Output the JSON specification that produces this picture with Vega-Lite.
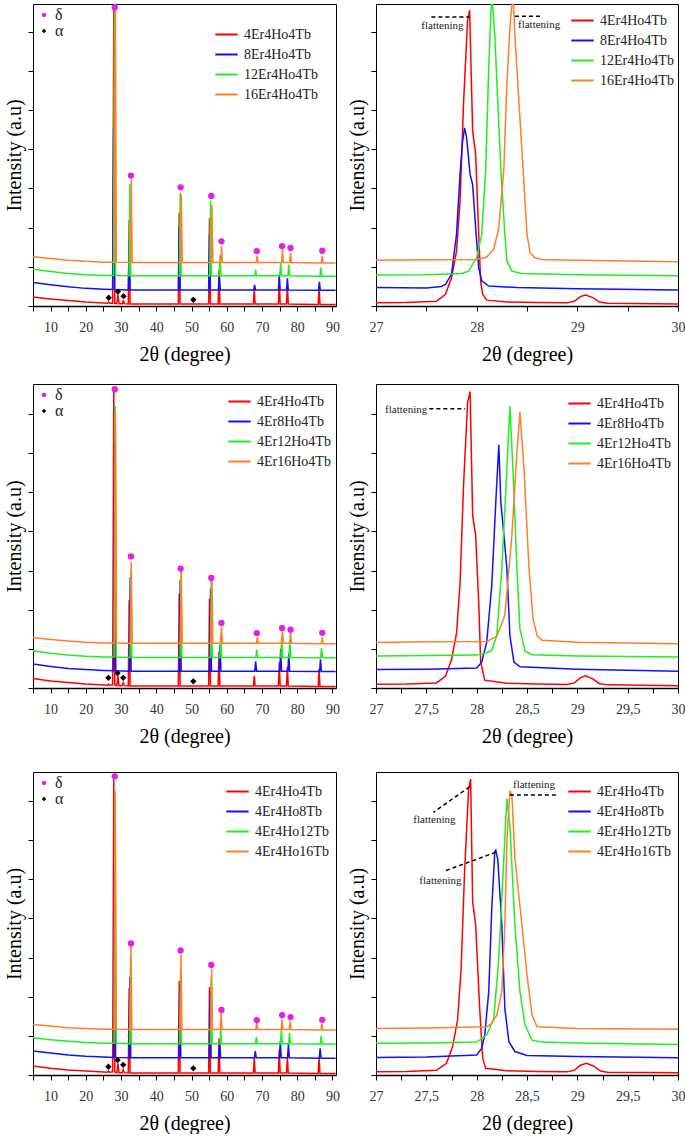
{
"$schema":"https://vega.github.io/schema/vega-lite/v6.json",
"background":"white",
"padding":{"left":4,"top":3,"right":0,"bottom":0},
"config":{
 "font":"Liberation Serif",
 "view":{"stroke":"black","strokeWidth":1},
 "style":{"guide-label":{"font":"Liberation Serif"},"guide-title":{"font":"Liberation Serif"}},
 "axis":{"grid":false,"labelFont":"Liberation Serif","titleFont":"Liberation Serif","titleFontWeight":"normal","titleFontSize":20,"labelFontSize":14,"labelColor":"#333","tickColor":"black","domainColor":"black","titleColor":"black"},
 "axisX":{"tickSize":5,"labelPadding":9,"titlePadding":10,"domainWidth":1.5,"labelFlush":false,"labelOverlap":false},
 "axisY":{"tickSize":5,"labels":false,"domain":false,"titlePadding":3},
 "legend":{"labelFont":"Liberation Serif","labelColor":"#222","padding":0}
},
"datasets":{
"w1":[
{"s":"4Er4Ho4Tb","x":5,"y":0.23},{"s":"4Er4Ho4Tb","x":10,"y":0.18},{"s":"4Er4Ho4Tb","x":15,"y":0.14},{"s":"4Er4Ho4Tb","x":20,"y":0.1},{"s":"4Er4Ho4Tb","x":25,"y":0.075},{"s":"4Er4Ho4Tb","x":26.2,"y":0.07},{"s":"4Er4Ho4Tb","x":26.5,"y":0.1},{"s":"4Er4Ho4Tb","x":26.8,"y":0.07},{"s":"4Er4Ho4Tb","x":27.6,"y":0.07},{"s":"4Er4Ho4Tb","x":27.93,"y":7.55},{"s":"4Er4Ho4Tb","x":28.2,"y":0.07},{"s":"4Er4Ho4Tb","x":28.8,"y":0.06},{"s":"4Er4Ho4Tb","x":29.1,"y":0.3},{"s":"4Er4Ho4Tb","x":29.4,"y":0.06},{"s":"4Er4Ho4Tb","x":30.4,"y":0.06},{"s":"4Er4Ho4Tb","x":30.65,"y":0.15},{"s":"4Er4Ho4Tb","x":30.9,"y":0.06},{"s":"4Er4Ho4Tb","x":32.05,"y":0.05},{"s":"4Er4Ho4Tb","x":32.3,"y":2.2},{"s":"4Er4Ho4Tb","x":32.55,"y":0.05},{"s":"4Er4Ho4Tb","x":46.25,"y":0.05},{"s":"4Er4Ho4Tb","x":46.5,"y":2.38},{"s":"4Er4Ho4Tb","x":46.75,"y":0.05},{"s":"4Er4Ho4Tb","x":54.85,"y":0.05},{"s":"4Er4Ho4Tb","x":55.1,"y":2.24},{"s":"4Er4Ho4Tb","x":55.35,"y":0.05},{"s":"4Er4Ho4Tb","x":57.55,"y":0.05},{"s":"4Er4Ho4Tb","x":57.8,"y":0.91},{"s":"4Er4Ho4Tb","x":58.05,"y":0.05},{"s":"4Er4Ho4Tb","x":67.55,"y":0.05},{"s":"4Er4Ho4Tb","x":67.8,"y":0.42},{"s":"4Er4Ho4Tb","x":68.05,"y":0.05},{"s":"4Er4Ho4Tb","x":74.65,"y":0.05},{"s":"4Er4Ho4Tb","x":74.9,"y":0.64},{"s":"4Er4Ho4Tb","x":75.15,"y":0.05},{"s":"4Er4Ho4Tb","x":76.95,"y":0.05},{"s":"4Er4Ho4Tb","x":77.2,"y":0.51},{"s":"4Er4Ho4Tb","x":77.45,"y":0.05},{"s":"4Er4Ho4Tb","x":85.95,"y":0.04},{"s":"4Er4Ho4Tb","x":86.2,"y":0.51},{"s":"4Er4Ho4Tb","x":86.45,"y":0.04},{"s":"4Er4Ho4Tb","x":90.9,"y":0.04},
{"s":"8Er4Ho4Tb","x":5,"y":0.6},{"s":"8Er4Ho4Tb","x":10,"y":0.54},{"s":"8Er4Ho4Tb","x":15,"y":0.49},{"s":"8Er4Ho4Tb","x":20,"y":0.45},{"s":"8Er4Ho4Tb","x":25,"y":0.43},{"s":"8Er4Ho4Tb","x":27.6,"y":0.42},{"s":"8Er4Ho4Tb","x":27.88,"y":4.55},{"s":"8Er4Ho4Tb","x":28.15,"y":0.42},{"s":"8Er4Ho4Tb","x":32.05,"y":0.41},{"s":"8Er4Ho4Tb","x":32.3,"y":1.68},{"s":"8Er4Ho4Tb","x":32.55,"y":0.41},{"s":"8Er4Ho4Tb","x":46.25,"y":0.41},{"s":"8Er4Ho4Tb","x":46.5,"y":2.02},{"s":"8Er4Ho4Tb","x":46.75,"y":0.41},{"s":"8Er4Ho4Tb","x":54.85,"y":0.41},{"s":"8Er4Ho4Tb","x":55.1,"y":1.83},{"s":"8Er4Ho4Tb","x":55.35,"y":0.41},{"s":"8Er4Ho4Tb","x":57.65,"y":0.41},{"s":"8Er4Ho4Tb","x":57.9,"y":0.78},{"s":"8Er4Ho4Tb","x":58.15,"y":0.41},{"s":"8Er4Ho4Tb","x":67.65,"y":0.41},{"s":"8Er4Ho4Tb","x":67.9,"y":0.54},{"s":"8Er4Ho4Tb","x":68.15,"y":0.41},{"s":"8Er4Ho4Tb","x":74.65,"y":0.41},{"s":"8Er4Ho4Tb","x":74.9,"y":0.81},{"s":"8Er4Ho4Tb","x":75.15,"y":0.41},{"s":"8Er4Ho4Tb","x":76.95,"y":0.41},{"s":"8Er4Ho4Tb","x":77.2,"y":0.71},{"s":"8Er4Ho4Tb","x":77.45,"y":0.41},{"s":"8Er4Ho4Tb","x":86.05,"y":0.4},{"s":"8Er4Ho4Tb","x":86.3,"y":0.62},{"s":"8Er4Ho4Tb","x":86.55,"y":0.4},{"s":"8Er4Ho4Tb","x":90.9,"y":0.4},
{"s":"12Er4Ho4Tb","x":5,"y":0.94},{"s":"12Er4Ho4Tb","x":10,"y":0.88},{"s":"12Er4Ho4Tb","x":15,"y":0.83},{"s":"12Er4Ho4Tb","x":20,"y":0.8},{"s":"12Er4Ho4Tb","x":25,"y":0.78},{"s":"12Er4Ho4Tb","x":27.85,"y":0.78},{"s":"12Er4Ho4Tb","x":28.15,"y":8.2},{"s":"12Er4Ho4Tb","x":28.45,"y":0.78},{"s":"12Er4Ho4Tb","x":32.25,"y":0.77},{"s":"12Er4Ho4Tb","x":32.5,"y":3.12},{"s":"12Er4Ho4Tb","x":32.75,"y":0.77},{"s":"12Er4Ho4Tb","x":46.55,"y":0.77},{"s":"12Er4Ho4Tb","x":46.8,"y":2.9},{"s":"12Er4Ho4Tb","x":47.05,"y":0.77},{"s":"12Er4Ho4Tb","x":55.15,"y":0.77},{"s":"12Er4Ho4Tb","x":55.4,"y":2.7},{"s":"12Er4Ho4Tb","x":55.65,"y":0.77},{"s":"12Er4Ho4Tb","x":57.85,"y":0.77},{"s":"12Er4Ho4Tb","x":58.1,"y":1.3},{"s":"12Er4Ho4Tb","x":58.35,"y":0.77},{"s":"12Er4Ho4Tb","x":67.95,"y":0.77},{"s":"12Er4Ho4Tb","x":68.2,"y":0.93},{"s":"12Er4Ho4Tb","x":68.45,"y":0.77},{"s":"12Er4Ho4Tb","x":75.05,"y":0.77},{"s":"12Er4Ho4Tb","x":75.3,"y":1.1},{"s":"12Er4Ho4Tb","x":75.55,"y":0.77},{"s":"12Er4Ho4Tb","x":77.35,"y":0.77},{"s":"12Er4Ho4Tb","x":77.6,"y":1.06},{"s":"12Er4Ho4Tb","x":77.85,"y":0.77},{"s":"12Er4Ho4Tb","x":86.45,"y":0.76},{"s":"12Er4Ho4Tb","x":86.7,"y":0.98},{"s":"12Er4Ho4Tb","x":86.95,"y":0.76},{"s":"12Er4Ho4Tb","x":90.9,"y":0.76},
{"s":"16Er4Ho4Tb","x":5,"y":1.26},{"s":"16Er4Ho4Tb","x":10,"y":1.21},{"s":"16Er4Ho4Tb","x":15,"y":1.17},{"s":"16Er4Ho4Tb","x":20,"y":1.14},{"s":"16Er4Ho4Tb","x":25,"y":1.12},{"s":"16Er4Ho4Tb","x":28.05,"y":1.12},{"s":"16Er4Ho4Tb","x":28.37,"y":8.2},{"s":"16Er4Ho4Tb","x":28.65,"y":1.12},{"s":"16Er4Ho4Tb","x":32.65,"y":1.11},{"s":"16Er4Ho4Tb","x":32.9,"y":3.23},{"s":"16Er4Ho4Tb","x":33.15,"y":1.11},{"s":"16Er4Ho4Tb","x":46.85,"y":1.11},{"s":"16Er4Ho4Tb","x":47.1,"y":2.85},{"s":"16Er4Ho4Tb","x":47.35,"y":1.11},{"s":"16Er4Ho4Tb","x":55.55,"y":1.11},{"s":"16Er4Ho4Tb","x":55.8,"y":2.58},{"s":"16Er4Ho4Tb","x":56.05,"y":1.11},{"s":"16Er4Ho4Tb","x":58.25,"y":1.11},{"s":"16Er4Ho4Tb","x":58.5,"y":1.53},{"s":"16Er4Ho4Tb","x":58.75,"y":1.11},{"s":"16Er4Ho4Tb","x":68.35,"y":1.11},{"s":"16Er4Ho4Tb","x":68.6,"y":1.28},{"s":"16Er4Ho4Tb","x":68.85,"y":1.11},{"s":"16Er4Ho4Tb","x":75.55,"y":1.11},{"s":"16Er4Ho4Tb","x":75.8,"y":1.45},{"s":"16Er4Ho4Tb","x":76.05,"y":1.11},{"s":"16Er4Ho4Tb","x":77.85,"y":1.11},{"s":"16Er4Ho4Tb","x":78.1,"y":1.36},{"s":"16Er4Ho4Tb","x":78.35,"y":1.11},{"s":"16Er4Ho4Tb","x":86.85,"y":1.1},{"s":"16Er4Ho4Tb","x":87.1,"y":1.28},{"s":"16Er4Ho4Tb","x":87.35,"y":1.1},{"s":"16Er4Ho4Tb","x":90.9,"y":1.1}
],
"w2":[
{"s":"4Er4Ho4Tb","x":5,"y":0.24},{"s":"4Er4Ho4Tb","x":10,"y":0.18},{"s":"4Er4Ho4Tb","x":15,"y":0.14},{"s":"4Er4Ho4Tb","x":20,"y":0.1},{"s":"4Er4Ho4Tb","x":25,"y":0.075},{"s":"4Er4Ho4Tb","x":26.1,"y":0.07},{"s":"4Er4Ho4Tb","x":26.4,"y":0.1},{"s":"4Er4Ho4Tb","x":26.7,"y":0.07},{"s":"4Er4Ho4Tb","x":27.6,"y":0.08},{"s":"4Er4Ho4Tb","x":27.93,"y":7.57},{"s":"4Er4Ho4Tb","x":28.2,"y":0.08},{"s":"4Er4Ho4Tb","x":28.8,"y":0.06},{"s":"4Er4Ho4Tb","x":29.1,"y":0.31},{"s":"4Er4Ho4Tb","x":29.4,"y":0.06},{"s":"4Er4Ho4Tb","x":30.3,"y":0.06},{"s":"4Er4Ho4Tb","x":30.6,"y":0.14},{"s":"4Er4Ho4Tb","x":30.9,"y":0.06},{"s":"4Er4Ho4Tb","x":32.05,"y":0.05},{"s":"4Er4Ho4Tb","x":32.3,"y":2.24},{"s":"4Er4Ho4Tb","x":32.55,"y":0.05},{"s":"4Er4Ho4Tb","x":46.25,"y":0.05},{"s":"4Er4Ho4Tb","x":46.5,"y":2.41},{"s":"4Er4Ho4Tb","x":46.75,"y":0.05},{"s":"4Er4Ho4Tb","x":54.85,"y":0.05},{"s":"4Er4Ho4Tb","x":55.1,"y":2.28},{"s":"4Er4Ho4Tb","x":55.35,"y":0.05},{"s":"4Er4Ho4Tb","x":57.55,"y":0.05},{"s":"4Er4Ho4Tb","x":57.8,"y":0.94},{"s":"4Er4Ho4Tb","x":58.05,"y":0.05},{"s":"4Er4Ho4Tb","x":67.55,"y":0.05},{"s":"4Er4Ho4Tb","x":67.8,"y":0.31},{"s":"4Er4Ho4Tb","x":68.05,"y":0.05},{"s":"4Er4Ho4Tb","x":74.65,"y":0.05},{"s":"4Er4Ho4Tb","x":74.9,"y":0.66},{"s":"4Er4Ho4Tb","x":75.15,"y":0.05},{"s":"4Er4Ho4Tb","x":76.95,"y":0.05},{"s":"4Er4Ho4Tb","x":77.2,"y":0.54},{"s":"4Er4Ho4Tb","x":77.45,"y":0.05},{"s":"4Er4Ho4Tb","x":85.95,"y":0.04},{"s":"4Er4Ho4Tb","x":86.2,"y":0.49},{"s":"4Er4Ho4Tb","x":86.45,"y":0.04},{"s":"4Er4Ho4Tb","x":90.9,"y":0.04},
{"s":"4Er8Ho4Tb","x":5,"y":0.61},{"s":"4Er8Ho4Tb","x":10,"y":0.55},{"s":"4Er8Ho4Tb","x":15,"y":0.5},{"s":"4Er8Ho4Tb","x":20,"y":0.47},{"s":"4Er8Ho4Tb","x":25,"y":0.45},{"s":"4Er8Ho4Tb","x":27.9,"y":0.44},{"s":"4Er8Ho4Tb","x":28.22,"y":6.21},{"s":"4Er8Ho4Tb","x":28.5,"y":0.44},{"s":"4Er8Ho4Tb","x":32.35,"y":0.43},{"s":"4Er8Ho4Tb","x":32.6,"y":2.83},{"s":"4Er8Ho4Tb","x":32.85,"y":0.43},{"s":"4Er8Ho4Tb","x":46.55,"y":0.43},{"s":"4Er8Ho4Tb","x":46.8,"y":2.75},{"s":"4Er8Ho4Tb","x":47.05,"y":0.43},{"s":"4Er8Ho4Tb","x":55.15,"y":0.43},{"s":"4Er8Ho4Tb","x":55.4,"y":2.54},{"s":"4Er8Ho4Tb","x":55.65,"y":0.43},{"s":"4Er8Ho4Tb","x":57.85,"y":0.43},{"s":"4Er8Ho4Tb","x":58.1,"y":1.09},{"s":"4Er8Ho4Tb","x":58.35,"y":0.43},{"s":"4Er8Ho4Tb","x":67.95,"y":0.43},{"s":"4Er8Ho4Tb","x":68.2,"y":0.68},{"s":"4Er8Ho4Tb","x":68.45,"y":0.43},{"s":"4Er8Ho4Tb","x":75.05,"y":0.43},{"s":"4Er8Ho4Tb","x":75.3,"y":1.0},{"s":"4Er8Ho4Tb","x":75.55,"y":0.43},{"s":"4Er8Ho4Tb","x":77.35,"y":0.43},{"s":"4Er8Ho4Tb","x":77.6,"y":0.88},{"s":"4Er8Ho4Tb","x":77.85,"y":0.43},{"s":"4Er8Ho4Tb","x":86.35,"y":0.42},{"s":"4Er8Ho4Tb","x":86.6,"y":0.73},{"s":"4Er8Ho4Tb","x":86.85,"y":0.42},{"s":"4Er8Ho4Tb","x":90.9,"y":0.42},
{"s":"4Er12Ho4Tb","x":5,"y":0.95},{"s":"4Er12Ho4Tb","x":10,"y":0.89},{"s":"4Er12Ho4Tb","x":15,"y":0.84},{"s":"4Er12Ho4Tb","x":20,"y":0.81},{"s":"4Er12Ho4Tb","x":25,"y":0.79},{"s":"4Er12Ho4Tb","x":28.0,"y":0.79},{"s":"4Er12Ho4Tb","x":28.33,"y":7.2},{"s":"4Er12Ho4Tb","x":28.6,"y":0.79},{"s":"4Er12Ho4Tb","x":32.55,"y":0.78},{"s":"4Er12Ho4Tb","x":32.8,"y":3.0},{"s":"4Er12Ho4Tb","x":33.05,"y":0.78},{"s":"4Er12Ho4Tb","x":46.75,"y":0.78},{"s":"4Er12Ho4Tb","x":47.0,"y":3.0},{"s":"4Er12Ho4Tb","x":47.25,"y":0.78},{"s":"4Er12Ho4Tb","x":55.35,"y":0.78},{"s":"4Er12Ho4Tb","x":55.6,"y":2.79},{"s":"4Er12Ho4Tb","x":55.85,"y":0.78},{"s":"4Er12Ho4Tb","x":58.05,"y":0.78},{"s":"4Er12Ho4Tb","x":58.3,"y":1.34},{"s":"4Er12Ho4Tb","x":58.55,"y":0.78},{"s":"4Er12Ho4Tb","x":68.25,"y":0.78},{"s":"4Er12Ho4Tb","x":68.5,"y":0.98},{"s":"4Er12Ho4Tb","x":68.75,"y":0.78},{"s":"4Er12Ho4Tb","x":75.35,"y":0.78},{"s":"4Er12Ho4Tb","x":75.6,"y":1.34},{"s":"4Er12Ho4Tb","x":75.85,"y":0.78},{"s":"4Er12Ho4Tb","x":77.65,"y":0.78},{"s":"4Er12Ho4Tb","x":77.9,"y":1.22},{"s":"4Er12Ho4Tb","x":78.15,"y":0.78},{"s":"4Er12Ho4Tb","x":86.65,"y":0.77},{"s":"4Er12Ho4Tb","x":86.9,"y":1.02},{"s":"4Er12Ho4Tb","x":87.15,"y":0.77},{"s":"4Er12Ho4Tb","x":90.9,"y":0.77},
{"s":"4Er16Ho4Tb","x":5,"y":1.29},{"s":"4Er16Ho4Tb","x":10,"y":1.24},{"s":"4Er16Ho4Tb","x":15,"y":1.2},{"s":"4Er16Ho4Tb","x":20,"y":1.17},{"s":"4Er16Ho4Tb","x":25,"y":1.15},{"s":"4Er16Ho4Tb","x":28.1,"y":1.15},{"s":"4Er16Ho4Tb","x":28.43,"y":7.05},{"s":"4Er16Ho4Tb","x":28.7,"y":1.15},{"s":"4Er16Ho4Tb","x":32.65,"y":1.14},{"s":"4Er16Ho4Tb","x":32.9,"y":3.22},{"s":"4Er16Ho4Tb","x":33.15,"y":1.14},{"s":"4Er16Ho4Tb","x":46.85,"y":1.14},{"s":"4Er16Ho4Tb","x":47.1,"y":3.0},{"s":"4Er16Ho4Tb","x":47.35,"y":1.14},{"s":"4Er16Ho4Tb","x":55.55,"y":1.14},{"s":"4Er16Ho4Tb","x":55.8,"y":2.79},{"s":"4Er16Ho4Tb","x":56.05,"y":1.14},{"s":"4Er16Ho4Tb","x":58.25,"y":1.14},{"s":"4Er16Ho4Tb","x":58.5,"y":1.56},{"s":"4Er16Ho4Tb","x":58.75,"y":1.14},{"s":"4Er16Ho4Tb","x":68.45,"y":1.14},{"s":"4Er16Ho4Tb","x":68.7,"y":1.3},{"s":"4Er16Ho4Tb","x":68.95,"y":1.14},{"s":"4Er16Ho4Tb","x":75.55,"y":1.14},{"s":"4Er16Ho4Tb","x":75.8,"y":1.47},{"s":"4Er16Ho4Tb","x":76.05,"y":1.14},{"s":"4Er16Ho4Tb","x":77.85,"y":1.14},{"s":"4Er16Ho4Tb","x":78.1,"y":1.43},{"s":"4Er16Ho4Tb","x":78.35,"y":1.14},{"s":"4Er16Ho4Tb","x":86.85,"y":1.13},{"s":"4Er16Ho4Tb","x":87.1,"y":1.3},{"s":"4Er16Ho4Tb","x":87.35,"y":1.13},{"s":"4Er16Ho4Tb","x":90.9,"y":1.13}
],
"w3":[
{"s":"4Er4Ho4Tb","x":5,"y":0.23},{"s":"4Er4Ho4Tb","x":10,"y":0.17},{"s":"4Er4Ho4Tb","x":15,"y":0.13},{"s":"4Er4Ho4Tb","x":20,"y":0.1},{"s":"4Er4Ho4Tb","x":25,"y":0.075},{"s":"4Er4Ho4Tb","x":26.1,"y":0.07},{"s":"4Er4Ho4Tb","x":26.4,"y":0.1},{"s":"4Er4Ho4Tb","x":26.7,"y":0.07},{"s":"4Er4Ho4Tb","x":27.6,"y":0.08},{"s":"4Er4Ho4Tb","x":27.94,"y":7.56},{"s":"4Er4Ho4Tb","x":28.2,"y":0.08},{"s":"4Er4Ho4Tb","x":28.8,"y":0.06},{"s":"4Er4Ho4Tb","x":29.1,"y":0.3},{"s":"4Er4Ho4Tb","x":29.4,"y":0.06},{"s":"4Er4Ho4Tb","x":30.3,"y":0.06},{"s":"4Er4Ho4Tb","x":30.6,"y":0.14},{"s":"4Er4Ho4Tb","x":30.9,"y":0.06},{"s":"4Er4Ho4Tb","x":32.05,"y":0.05},{"s":"4Er4Ho4Tb","x":32.3,"y":2.23},{"s":"4Er4Ho4Tb","x":32.55,"y":0.05},{"s":"4Er4Ho4Tb","x":46.25,"y":0.05},{"s":"4Er4Ho4Tb","x":46.5,"y":2.4},{"s":"4Er4Ho4Tb","x":46.75,"y":0.05},{"s":"4Er4Ho4Tb","x":54.85,"y":0.05},{"s":"4Er4Ho4Tb","x":55.1,"y":2.25},{"s":"4Er4Ho4Tb","x":55.35,"y":0.05},{"s":"4Er4Ho4Tb","x":57.55,"y":0.05},{"s":"4Er4Ho4Tb","x":57.8,"y":0.93},{"s":"4Er4Ho4Tb","x":58.05,"y":0.05},{"s":"4Er4Ho4Tb","x":67.55,"y":0.05},{"s":"4Er4Ho4Tb","x":67.8,"y":0.44},{"s":"4Er4Ho4Tb","x":68.05,"y":0.05},{"s":"4Er4Ho4Tb","x":74.65,"y":0.05},{"s":"4Er4Ho4Tb","x":74.9,"y":0.65},{"s":"4Er4Ho4Tb","x":75.15,"y":0.05},{"s":"4Er4Ho4Tb","x":76.95,"y":0.05},{"s":"4Er4Ho4Tb","x":77.2,"y":0.44},{"s":"4Er4Ho4Tb","x":77.45,"y":0.05},{"s":"4Er4Ho4Tb","x":85.95,"y":0.04},{"s":"4Er4Ho4Tb","x":86.2,"y":0.44},{"s":"4Er4Ho4Tb","x":86.45,"y":0.04},{"s":"4Er4Ho4Tb","x":90.9,"y":0.04},
{"s":"4Er4Ho8Tb","x":5,"y":0.61},{"s":"4Er4Ho8Tb","x":10,"y":0.56},{"s":"4Er4Ho8Tb","x":15,"y":0.51},{"s":"4Er4Ho8Tb","x":20,"y":0.48},{"s":"4Er4Ho8Tb","x":25,"y":0.46},{"s":"4Er4Ho8Tb","x":27.9,"y":0.45},{"s":"4Er4Ho8Tb","x":28.19,"y":5.74},{"s":"4Er4Ho8Tb","x":28.45,"y":0.45},{"s":"4Er4Ho8Tb","x":32.25,"y":0.44},{"s":"4Er4Ho8Tb","x":32.5,"y":2.5},{"s":"4Er4Ho8Tb","x":32.75,"y":0.44},{"s":"4Er4Ho8Tb","x":46.45,"y":0.44},{"s":"4Er4Ho8Tb","x":46.7,"y":2.3},{"s":"4Er4Ho8Tb","x":46.95,"y":0.44},{"s":"4Er4Ho8Tb","x":55.05,"y":0.44},{"s":"4Er4Ho8Tb","x":55.3,"y":2.14},{"s":"4Er4Ho8Tb","x":55.55,"y":0.44},{"s":"4Er4Ho8Tb","x":57.75,"y":0.44},{"s":"4Er4Ho8Tb","x":58.0,"y":0.87},{"s":"4Er4Ho8Tb","x":58.25,"y":0.44},{"s":"4Er4Ho8Tb","x":67.85,"y":0.44},{"s":"4Er4Ho8Tb","x":68.1,"y":0.61},{"s":"4Er4Ho8Tb","x":68.35,"y":0.44},{"s":"4Er4Ho8Tb","x":74.95,"y":0.44},{"s":"4Er4Ho8Tb","x":75.2,"y":0.87},{"s":"4Er4Ho8Tb","x":75.45,"y":0.44},{"s":"4Er4Ho8Tb","x":77.25,"y":0.44},{"s":"4Er4Ho8Tb","x":77.5,"y":0.8},{"s":"4Er4Ho8Tb","x":77.75,"y":0.44},{"s":"4Er4Ho8Tb","x":86.25,"y":0.43},{"s":"4Er4Ho8Tb","x":86.5,"y":0.68},{"s":"4Er4Ho8Tb","x":86.75,"y":0.43},{"s":"4Er4Ho8Tb","x":90.9,"y":0.43},
{"s":"4Er4Ho12Tb","x":5,"y":0.95},{"s":"4Er4Ho12Tb","x":10,"y":0.9},{"s":"4Er4Ho12Tb","x":15,"y":0.86},{"s":"4Er4Ho12Tb","x":20,"y":0.83},{"s":"4Er4Ho12Tb","x":25,"y":0.81},{"s":"4Er4Ho12Tb","x":28.0,"y":0.81},{"s":"4Er4Ho12Tb","x":28.3,"y":7.06},{"s":"4Er4Ho12Tb","x":28.6,"y":0.81},{"s":"4Er4Ho12Tb","x":32.45,"y":0.8},{"s":"4Er4Ho12Tb","x":32.7,"y":3.0},{"s":"4Er4Ho12Tb","x":32.95,"y":0.8},{"s":"4Er4Ho12Tb","x":46.65,"y":0.8},{"s":"4Er4Ho12Tb","x":46.9,"y":2.7},{"s":"4Er4Ho12Tb","x":47.15,"y":0.8},{"s":"4Er4Ho12Tb","x":55.35,"y":0.8},{"s":"4Er4Ho12Tb","x":55.6,"y":2.5},{"s":"4Er4Ho12Tb","x":55.85,"y":0.8},{"s":"4Er4Ho12Tb","x":58.05,"y":0.8},{"s":"4Er4Ho12Tb","x":58.3,"y":1.16},{"s":"4Er4Ho12Tb","x":58.55,"y":0.8},{"s":"4Er4Ho12Tb","x":68.15,"y":0.8},{"s":"4Er4Ho12Tb","x":68.4,"y":0.97},{"s":"4Er4Ho12Tb","x":68.65,"y":0.8},{"s":"4Er4Ho12Tb","x":75.25,"y":0.8},{"s":"4Er4Ho12Tb","x":75.5,"y":1.16},{"s":"4Er4Ho12Tb","x":75.75,"y":0.8},{"s":"4Er4Ho12Tb","x":77.55,"y":0.8},{"s":"4Er4Ho12Tb","x":77.8,"y":1.08},{"s":"4Er4Ho12Tb","x":78.05,"y":0.8},{"s":"4Er4Ho12Tb","x":86.55,"y":0.79},{"s":"4Er4Ho12Tb","x":86.8,"y":1.0},{"s":"4Er4Ho12Tb","x":87.05,"y":0.79},{"s":"4Er4Ho12Tb","x":90.9,"y":0.79},
{"s":"4Er4Ho16Tb","x":5,"y":1.29},{"s":"4Er4Ho16Tb","x":10,"y":1.25},{"s":"4Er4Ho16Tb","x":15,"y":1.21},{"s":"4Er4Ho16Tb","x":20,"y":1.19},{"s":"4Er4Ho16Tb","x":25,"y":1.17},{"s":"4Er4Ho16Tb","x":28.05,"y":1.17},{"s":"4Er4Ho16Tb","x":28.33,"y":7.26},{"s":"4Er4Ho16Tb","x":28.6,"y":1.17},{"s":"4Er4Ho16Tb","x":32.55,"y":1.16},{"s":"4Er4Ho16Tb","x":32.8,"y":3.29},{"s":"4Er4Ho16Tb","x":33.05,"y":1.16},{"s":"4Er4Ho16Tb","x":46.75,"y":1.16},{"s":"4Er4Ho16Tb","x":47.0,"y":3.08},{"s":"4Er4Ho16Tb","x":47.25,"y":1.16},{"s":"4Er4Ho16Tb","x":55.45,"y":1.16},{"s":"4Er4Ho16Tb","x":55.7,"y":2.7},{"s":"4Er4Ho16Tb","x":55.95,"y":1.16},{"s":"4Er4Ho16Tb","x":58.15,"y":1.16},{"s":"4Er4Ho16Tb","x":58.4,"y":1.59},{"s":"4Er4Ho16Tb","x":58.65,"y":1.16},{"s":"4Er4Ho16Tb","x":68.25,"y":1.16},{"s":"4Er4Ho16Tb","x":68.5,"y":1.34},{"s":"4Er4Ho16Tb","x":68.75,"y":1.16},{"s":"4Er4Ho16Tb","x":75.45,"y":1.16},{"s":"4Er4Ho16Tb","x":75.7,"y":1.42},{"s":"4Er4Ho16Tb","x":75.95,"y":1.16},{"s":"4Er4Ho16Tb","x":77.75,"y":1.16},{"s":"4Er4Ho16Tb","x":78.0,"y":1.38},{"s":"4Er4Ho16Tb","x":78.25,"y":1.16},{"s":"4Er4Ho16Tb","x":86.75,"y":1.15},{"s":"4Er4Ho16Tb","x":87.0,"y":1.31},{"s":"4Er4Ho16Tb","x":87.25,"y":1.15},{"s":"4Er4Ho16Tb","x":90.9,"y":1.15}
],
"z1":[
{"s":"4Er4Ho4Tb","x":27,"y":0.085},{"s":"4Er4Ho4Tb","x":27.3,"y":0.09},{"s":"4Er4Ho4Tb","x":27.6,"y":0.12},{"s":"4Er4Ho4Tb","x":27.69,"y":0.3},{"s":"4Er4Ho4Tb","x":27.75,"y":0.72},{"s":"4Er4Ho4Tb","x":27.8,"y":1.4},{"s":"4Er4Ho4Tb","x":27.835,"y":2.68},{"s":"4Er4Ho4Tb","x":27.87,"y":5.2},{"s":"4Er4Ho4Tb","x":27.91,"y":7.3},{"s":"4Er4Ho4Tb","x":27.93,"y":7.55},{"s":"4Er4Ho4Tb","x":27.96,"y":4.47},{"s":"4Er4Ho4Tb","x":27.99,"y":3.87},{"s":"4Er4Ho4Tb","x":28.01,"y":2.5},{"s":"4Er4Ho4Tb","x":28.04,"y":0.6},{"s":"4Er4Ho4Tb","x":28.06,"y":0.3},{"s":"4Er4Ho4Tb","x":28.1,"y":0.15},{"s":"4Er4Ho4Tb","x":28.3,"y":0.1},{"s":"4Er4Ho4Tb","x":28.6,"y":0.09},{"s":"4Er4Ho4Tb","x":28.9,"y":0.08},{"s":"4Er4Ho4Tb","x":28.97,"y":0.12},{"s":"4Er4Ho4Tb","x":29.03,"y":0.24},{"s":"4Er4Ho4Tb","x":29.08,"y":0.28},{"s":"4Er4Ho4Tb","x":29.15,"y":0.22},{"s":"4Er4Ho4Tb","x":29.22,"y":0.1},{"s":"4Er4Ho4Tb","x":29.3,"y":0.07},{"s":"4Er4Ho4Tb","x":30,"y":0.05},
{"s":"8Er4Ho4Tb","x":27,"y":0.47},{"s":"8Er4Ho4Tb","x":27.5,"y":0.46},{"s":"8Er4Ho4Tb","x":27.65,"y":0.5},{"s":"8Er4Ho4Tb","x":27.69,"y":0.55},{"s":"8Er4Ho4Tb","x":27.75,"y":0.81},{"s":"8Er4Ho4Tb","x":27.8,"y":1.83},{"s":"8Er4Ho4Tb","x":27.835,"y":3.36},{"s":"8Er4Ho4Tb","x":27.86,"y":4.2},{"s":"8Er4Ho4Tb","x":27.88,"y":4.55},{"s":"8Er4Ho4Tb","x":27.9,"y":4.3},{"s":"8Er4Ho4Tb","x":27.935,"y":3.36},{"s":"8Er4Ho4Tb","x":27.96,"y":3.1},{"s":"8Er4Ho4Tb","x":27.99,"y":2.0},{"s":"8Er4Ho4Tb","x":28.02,"y":0.98},{"s":"8Er4Ho4Tb","x":28.05,"y":0.64},{"s":"8Er4Ho4Tb","x":28.12,"y":0.51},{"s":"8Er4Ho4Tb","x":28.4,"y":0.47},{"s":"8Er4Ho4Tb","x":29,"y":0.44},{"s":"8Er4Ho4Tb","x":30,"y":0.41},
{"s":"12Er4Ho4Tb","x":27,"y":0.79},{"s":"12Er4Ho4Tb","x":27.5,"y":0.8},{"s":"12Er4Ho4Tb","x":27.85,"y":0.83},{"s":"12Er4Ho4Tb","x":27.92,"y":0.89},{"s":"12Er4Ho4Tb","x":28.0,"y":1.23},{"s":"12Er4Ho4Tb","x":28.05,"y":1.83},{"s":"12Er4Ho4Tb","x":28.09,"y":3.5},{"s":"12Er4Ho4Tb","x":28.12,"y":6.1},{"s":"12Er4Ho4Tb","x":28.15,"y":8.0},{"s":"12Er4Ho4Tb","x":28.18,"y":6.9},{"s":"12Er4Ho4Tb","x":28.21,"y":5.2},{"s":"12Er4Ho4Tb","x":28.24,"y":3.5},{"s":"12Er4Ho4Tb","x":28.28,"y":1.83},{"s":"12Er4Ho4Tb","x":28.3,"y":1.15},{"s":"12Er4Ho4Tb","x":28.35,"y":0.89},{"s":"12Er4Ho4Tb","x":28.45,"y":0.83},{"s":"12Er4Ho4Tb","x":29,"y":0.8},{"s":"12Er4Ho4Tb","x":30,"y":0.77},
{"s":"16Er4Ho4Tb","x":27,"y":1.17},{"s":"16Er4Ho4Tb","x":27.5,"y":1.18},{"s":"16Er4Ho4Tb","x":28.0,"y":1.19},{"s":"16Er4Ho4Tb","x":28.1,"y":1.25},{"s":"16Er4Ho4Tb","x":28.17,"y":1.45},{"s":"16Er4Ho4Tb","x":28.22,"y":2.0},{"s":"16Er4Ho4Tb","x":28.27,"y":3.5},{"s":"16Er4Ho4Tb","x":28.3,"y":5.66},{"s":"16Er4Ho4Tb","x":28.33,"y":7.1},{"s":"16Er4Ho4Tb","x":28.36,"y":8.0},{"s":"16Er4Ho4Tb","x":28.38,"y":6.9},{"s":"16Er4Ho4Tb","x":28.42,"y":5.2},{"s":"16Er4Ho4Tb","x":28.47,"y":3.1},{"s":"16Er4Ho4Tb","x":28.5,"y":1.83},{"s":"16Er4Ho4Tb","x":28.53,"y":1.36},{"s":"16Er4Ho4Tb","x":28.58,"y":1.23},{"s":"16Er4Ho4Tb","x":28.65,"y":1.19},{"s":"16Er4Ho4Tb","x":29,"y":1.17},{"s":"16Er4Ho4Tb","x":30,"y":1.13}
],
"z2":[
{"s":"4Er4Ho4Tb","x":27,"y":0.094},{"s":"4Er4Ho4Tb","x":27.3,"y":0.1},{"s":"4Er4Ho4Tb","x":27.6,"y":0.13},{"s":"4Er4Ho4Tb","x":27.69,"y":0.3},{"s":"4Er4Ho4Tb","x":27.75,"y":0.72},{"s":"4Er4Ho4Tb","x":27.8,"y":1.4},{"s":"4Er4Ho4Tb","x":27.835,"y":2.68},{"s":"4Er4Ho4Tb","x":27.87,"y":5.2},{"s":"4Er4Ho4Tb","x":27.91,"y":7.3},{"s":"4Er4Ho4Tb","x":27.935,"y":7.57},{"s":"4Er4Ho4Tb","x":27.96,"y":4.41},{"s":"4Er4Ho4Tb","x":27.99,"y":3.9},{"s":"4Er4Ho4Tb","x":28.02,"y":2.2},{"s":"4Er4Ho4Tb","x":28.04,"y":0.66},{"s":"4Er4Ho4Tb","x":28.08,"y":0.2},{"s":"4Er4Ho4Tb","x":28.3,"y":0.12},{"s":"4Er4Ho4Tb","x":28.6,"y":0.1},{"s":"4Er4Ho4Tb","x":28.9,"y":0.09},{"s":"4Er4Ho4Tb","x":28.97,"y":0.13},{"s":"4Er4Ho4Tb","x":29.03,"y":0.26},{"s":"4Er4Ho4Tb","x":29.08,"y":0.31},{"s":"4Er4Ho4Tb","x":29.15,"y":0.24},{"s":"4Er4Ho4Tb","x":29.22,"y":0.11},{"s":"4Er4Ho4Tb","x":29.3,"y":0.08},{"s":"4Er4Ho4Tb","x":30,"y":0.06},
{"s":"4Er8Ho4Tb","x":27,"y":0.47},{"s":"4Er8Ho4Tb","x":27.5,"y":0.48},{"s":"4Er8Ho4Tb","x":28.0,"y":0.51},{"s":"4Er8Ho4Tb","x":28.05,"y":0.66},{"s":"4Er8Ho4Tb","x":28.1,"y":1.17},{"s":"4Er8Ho4Tb","x":28.15,"y":2.62},{"s":"4Er8Ho4Tb","x":28.19,"y":4.75},{"s":"4Er8Ho4Tb","x":28.22,"y":6.21},{"s":"4Er8Ho4Tb","x":28.24,"y":4.75},{"s":"4Er8Ho4Tb","x":28.28,"y":3.64},{"s":"4Er8Ho4Tb","x":28.3,"y":3.05},{"s":"4Er8Ho4Tb","x":28.33,"y":1.34},{"s":"4Er8Ho4Tb","x":28.37,"y":0.66},{"s":"4Er8Ho4Tb","x":28.43,"y":0.54},{"s":"4Er8Ho4Tb","x":29,"y":0.48},{"s":"4Er8Ho4Tb","x":30,"y":0.43},
{"s":"4Er12Ho4Tb","x":27,"y":0.82},{"s":"4Er12Ho4Tb","x":27.5,"y":0.83},{"s":"4Er12Ho4Tb","x":28.0,"y":0.84},{"s":"4Er12Ho4Tb","x":28.1,"y":0.9},{"s":"4Er12Ho4Tb","x":28.15,"y":0.96},{"s":"4Er12Ho4Tb","x":28.2,"y":1.34},{"s":"4Er12Ho4Tb","x":28.25,"y":3.05},{"s":"4Er12Ho4Tb","x":28.3,"y":5.6},{"s":"4Er12Ho4Tb","x":28.33,"y":7.2},{"s":"4Er12Ho4Tb","x":28.36,"y":5.6},{"s":"4Er12Ho4Tb","x":28.4,"y":3.05},{"s":"4Er12Ho4Tb","x":28.43,"y":1.51},{"s":"4Er12Ho4Tb","x":28.48,"y":0.94},{"s":"4Er12Ho4Tb","x":28.55,"y":0.85},{"s":"4Er12Ho4Tb","x":29,"y":0.82},{"s":"4Er12Ho4Tb","x":30,"y":0.79},
{"s":"4Er16Ho4Tb","x":27,"y":1.16},{"s":"4Er16Ho4Tb","x":27.5,"y":1.18},{"s":"4Er16Ho4Tb","x":28.1,"y":1.19},{"s":"4Er16Ho4Tb","x":28.2,"y":1.32},{"s":"4Er16Ho4Tb","x":28.28,"y":1.86},{"s":"4Er16Ho4Tb","x":28.35,"y":3.9},{"s":"4Er16Ho4Tb","x":28.4,"y":6.03},{"s":"4Er16Ho4Tb","x":28.43,"y":7.05},{"s":"4Er16Ho4Tb","x":28.47,"y":5.6},{"s":"4Er16Ho4Tb","x":28.52,"y":3.05},{"s":"4Er16Ho4Tb","x":28.56,"y":1.77},{"s":"4Er16Ho4Tb","x":28.6,"y":1.34},{"s":"4Er16Ho4Tb","x":28.65,"y":1.22},{"s":"4Er16Ho4Tb","x":29,"y":1.17},{"s":"4Er16Ho4Tb","x":30,"y":1.13}
],
"z3":[
{"s":"4Er4Ho4Tb","x":27,"y":0.085},{"s":"4Er4Ho4Tb","x":27.3,"y":0.09},{"s":"4Er4Ho4Tb","x":27.6,"y":0.12},{"s":"4Er4Ho4Tb","x":27.7,"y":0.3},{"s":"4Er4Ho4Tb","x":27.76,"y":0.72},{"s":"4Er4Ho4Tb","x":27.81,"y":1.4},{"s":"4Er4Ho4Tb","x":27.845,"y":2.68},{"s":"4Er4Ho4Tb","x":27.88,"y":5.2},{"s":"4Er4Ho4Tb","x":27.92,"y":7.3},{"s":"4Er4Ho4Tb","x":27.94,"y":7.56},{"s":"4Er4Ho4Tb","x":27.96,"y":4.43},{"s":"4Er4Ho4Tb","x":27.99,"y":3.83},{"s":"4Er4Ho4Tb","x":28.03,"y":1.7},{"s":"4Er4Ho4Tb","x":28.06,"y":0.43},{"s":"4Er4Ho4Tb","x":28.09,"y":0.17},{"s":"4Er4Ho4Tb","x":28.3,"y":0.11},{"s":"4Er4Ho4Tb","x":28.6,"y":0.09},{"s":"4Er4Ho4Tb","x":28.9,"y":0.08},{"s":"4Er4Ho4Tb","x":28.97,"y":0.12},{"s":"4Er4Ho4Tb","x":29.03,"y":0.25},{"s":"4Er4Ho4Tb","x":29.09,"y":0.3},{"s":"4Er4Ho4Tb","x":29.16,"y":0.23},{"s":"4Er4Ho4Tb","x":29.23,"y":0.1},{"s":"4Er4Ho4Tb","x":29.3,"y":0.07},{"s":"4Er4Ho4Tb","x":30,"y":0.06},
{"s":"4Er4Ho8Tb","x":27,"y":0.45},{"s":"4Er4Ho8Tb","x":27.5,"y":0.46},{"s":"4Er4Ho8Tb","x":28.0,"y":0.51},{"s":"4Er4Ho8Tb","x":28.05,"y":0.68},{"s":"4Er4Ho8Tb","x":28.08,"y":1.02},{"s":"4Er4Ho8Tb","x":28.12,"y":2.13},{"s":"4Er4Ho8Tb","x":28.15,"y":4.26},{"s":"4Er4Ho8Tb","x":28.18,"y":5.7},{"s":"4Er4Ho8Tb","x":28.19,"y":5.74},{"s":"4Er4Ho8Tb","x":28.21,"y":5.5},{"s":"4Er4Ho8Tb","x":28.25,"y":3.83},{"s":"4Er4Ho8Tb","x":28.28,"y":1.7},{"s":"4Er4Ho8Tb","x":28.32,"y":0.85},{"s":"4Er4Ho8Tb","x":28.38,"y":0.6},{"s":"4Er4Ho8Tb","x":28.5,"y":0.5},{"s":"4Er4Ho8Tb","x":29,"y":0.47},{"s":"4Er4Ho8Tb","x":30,"y":0.44},
{"s":"4Er4Ho12Tb","x":27,"y":0.81},{"s":"4Er4Ho12Tb","x":27.5,"y":0.82},{"s":"4Er4Ho12Tb","x":28.0,"y":0.84},{"s":"4Er4Ho12Tb","x":28.1,"y":1.02},{"s":"4Er4Ho12Tb","x":28.17,"y":1.45},{"s":"4Er4Ho12Tb","x":28.22,"y":2.98},{"s":"4Er4Ho12Tb","x":28.27,"y":5.53},{"s":"4Er4Ho12Tb","x":28.3,"y":7.06},{"s":"4Er4Ho12Tb","x":28.33,"y":6.38},{"s":"4Er4Ho12Tb","x":28.38,"y":3.83},{"s":"4Er4Ho12Tb","x":28.43,"y":2.13},{"s":"4Er4Ho12Tb","x":28.48,"y":1.28},{"s":"4Er4Ho12Tb","x":28.55,"y":0.89},{"s":"4Er4Ho12Tb","x":28.65,"y":0.84},{"s":"4Er4Ho12Tb","x":29,"y":0.82},{"s":"4Er4Ho12Tb","x":30,"y":0.78},
{"s":"4Er4Ho16Tb","x":27,"y":1.19},{"s":"4Er4Ho16Tb","x":27.5,"y":1.2},{"s":"4Er4Ho16Tb","x":28.1,"y":1.23},{"s":"4Er4Ho16Tb","x":28.15,"y":1.32},{"s":"4Er4Ho16Tb","x":28.2,"y":1.53},{"s":"4Er4Ho16Tb","x":28.25,"y":2.13},{"s":"4Er4Ho16Tb","x":28.28,"y":3.83},{"s":"4Er4Ho16Tb","x":28.3,"y":5.96},{"s":"4Er4Ho16Tb","x":28.33,"y":7.26},{"s":"4Er4Ho16Tb","x":28.35,"y":7.15},{"s":"4Er4Ho16Tb","x":28.38,"y":5.53},{"s":"4Er4Ho16Tb","x":28.45,"y":3.83},{"s":"4Er4Ho16Tb","x":28.5,"y":2.55},{"s":"4Er4Ho16Tb","x":28.55,"y":1.53},{"s":"4Er4Ho16Tb","x":28.6,"y":1.23},{"s":"4Er4Ho16Tb","x":29,"y":1.19},{"s":"4Er4Ho16Tb","x":30,"y":1.17}
],
"m1":[{"x":28.2,"y":7.62,"ph":"δ"},{"x":32.8,"y":3.33,"ph":"δ"},{"x":46.9,"y":3.03,"ph":"δ"},{"x":55.6,"y":2.81,"ph":"δ"},{"x":58.5,"y":1.65,"ph":"δ"},{"x":68.5,"y":1.4,"ph":"δ"},{"x":75.7,"y":1.53,"ph":"δ"},{"x":78.1,"y":1.48,"ph":"δ"},{"x":87.1,"y":1.41,"ph":"δ"},{"x":26.5,"y":0.21,"ph":"α"},{"x":29.1,"y":0.37,"ph":"α"},{"x":30.7,"y":0.25,"ph":"α"},{"x":50.5,"y":0.16,"ph":"α"}],
"m2":[{"x":28.2,"y":7.63,"ph":"δ"},{"x":32.8,"y":3.36,"ph":"δ"},{"x":46.9,"y":3.05,"ph":"δ"},{"x":55.6,"y":2.81,"ph":"δ"},{"x":58.5,"y":1.66,"ph":"δ"},{"x":68.5,"y":1.4,"ph":"δ"},{"x":75.7,"y":1.53,"ph":"δ"},{"x":78.1,"y":1.49,"ph":"δ"},{"x":87.1,"y":1.41,"ph":"δ"},{"x":26.4,"y":0.26,"ph":"α"},{"x":29.0,"y":0.38,"ph":"α"},{"x":30.6,"y":0.26,"ph":"α"},{"x":50.5,"y":0.17,"ph":"α"}],
"m3":[{"x":28.2,"y":7.63,"ph":"δ"},{"x":32.8,"y":3.36,"ph":"δ"},{"x":46.9,"y":3.18,"ph":"δ"},{"x":55.6,"y":2.81,"ph":"δ"},{"x":58.5,"y":1.66,"ph":"δ"},{"x":68.5,"y":1.4,"ph":"δ"},{"x":75.7,"y":1.53,"ph":"δ"},{"x":78.1,"y":1.48,"ph":"δ"},{"x":87.1,"y":1.41,"ph":"δ"},{"x":26.4,"y":0.21,"ph":"α"},{"x":29.0,"y":0.38,"ph":"α"},{"x":30.6,"y":0.26,"ph":"α"},{"x":50.5,"y":0.17,"ph":"α"}],
"r1":[{"x":27.55,"y":7.38,"x2":27.93,"y2":7.38},{"x":28.38,"y":7.4,"x2":28.65,"y2":7.4}],
"t1":[{"x":27.66,"y":7.15,"t":"flattening"},{"x":28.62,"y":7.17,"t":"flattening"}],
"r2":[{"x":27.53,"y":7.13,"x2":27.885,"y2":7.13}],
"t2":[{"x":27.3,"y":7.11,"t":"flattening"}],
"r3":[{"x":27.93,"y":7.36,"x2":27.57,"y2":6.71},{"x":28.19,"y":5.69,"x2":27.68,"y2":5.21},{"x":28.33,"y":7.15,"x2":28.79,"y2":7.15}],
"t3":[{"x":27.58,"y":6.51,"t":"flattening"},{"x":27.64,"y":4.96,"t":"flattening"},{"x":28.57,"y":7.42,"t":"flattening"}]
},
"spacing":18,
"resolve":{"scale":{"x":"independent","y":"independent","stroke":"independent","fill":"independent","shape":"independent"},"legend":{"stroke":"independent","fill":"independent","shape":"independent"}},
"vconcat":[
{"spacing":7,
 "resolve":{"scale":{"x":"independent","y":"independent","stroke":"independent","fill":"independent","shape":"independent"},"legend":{"stroke":"independent","fill":"independent","shape":"independent"}},
 "hconcat":[
 {"width":303,"height":302,
  "encoding":{"x":{"field":"x","type":"quantitative","scale":{"domain":[5,91],"nice":false,"zero":false},"axis":{"values":[5,10,15,20,25,30,35,40,45,50,55,60,65,70,75,80,85,90],"labelExpr":"datum.value % 10 == 0 ? datum.label : ''","title":"2θ (degree)","labelFont":"Liberation Serif","titleFont":"Liberation Serif"}},
              "y":{"field":"y","type":"quantitative","scale":{"domain":[0,7.71],"nice":false,"zero":false},"axis":{"values":[0,1,2,3,4,5,6,7],"title":"Intensity (a.u)","titleFont":"Liberation Serif"}}},
  "layer":[
   {"data":{"name":"w1"},"mark":{"type":"line","strokeWidth":1.5,"clip":true},
    "encoding":{"stroke":{"field":"s","type":"nominal","scale":{"domain":["4Er4Ho4Tb","8Er4Ho4Tb","12Er4Ho4Tb","16Er4Ho4Tb"],"range":["#ff0000","#1010ff","#22ee22","#ff7f2a"]},
      "legend":{"title":null,"orient":"top-right","offset":18,"symbolType":"stroke","symbolSize":500,"symbolStrokeWidth":2,"labelFontSize":14,"rowPadding":-1,"labelOffset":5}}}},
   {"data":{"name":"m1"},"mark":{"type":"point","filled":true,"size":40,"opacity":1},
    "encoding":{"fill":{"field":"ph","type":"nominal","scale":{"domain":["δ","α"],"range":["#e61ee6","#000000"]},"legend":{"title":null,"orient":"top-left","offset":3,"symbolSize":20,"labelFontSize":16,"rowPadding":-2,"labelOffset":3}},
                "shape":{"field":"ph","type":"nominal","scale":{"domain":["δ","α"],"range":["circle","diamond"]},"legend":{"title":null,"orient":"top-left","offset":3,"symbolSize":20,"labelFontSize":16,"rowPadding":-2,"labelOffset":3}}}}
  ]},
 {"width":302,"height":302,
  "encoding":{"x":{"field":"x","type":"quantitative","scale":{"domain":[27,30],"nice":false,"zero":false},"axis":{"values":[27,27.5,28,28.5,29,29.5,30],"labelExpr":"datum.value % 1 == 0 ? format(datum.value,'~g') : ''","title":"2θ (degree)","labelFont":"Liberation Serif","titleFont":"Liberation Serif"}},
              "y":{"field":"y","type":"quantitative","scale":{"domain":[0,7.71],"nice":false,"zero":false},"axis":{"values":[0,1,2,3,4,5,6,7],"title":"Intensity (a.u)","titleFont":"Liberation Serif"}}},
  "layer":[
   {"data":{"name":"z1"},"mark":{"type":"line","strokeWidth":1.5,"clip":true},
    "encoding":{"stroke":{"field":"s","type":"nominal","scale":{"domain":["4Er4Ho4Tb","8Er4Ho4Tb","12Er4Ho4Tb","16Er4Ho4Tb"],"range":["#ff0000","#1010ff","#22ee22","#ff7f2a"]},
      "legend":{"title":null,"orient":"top-right","offset":4,"symbolType":"stroke","symbolSize":500,"symbolStrokeWidth":2,"labelFontSize":14,"rowPadding":-1,"labelOffset":5}}}},
   {"data":{"name":"r1"},"mark":{"type":"rule","strokeDash":[4,3],"strokeWidth":1.5,"color":"black"},"encoding":{"x2":{"field":"x2"},"y2":{"field":"y2"}}},
   {"data":{"name":"t1"},"mark":{"type":"text","fontSize":11,"font":"Liberation Serif","color":"#222"},"encoding":{"text":{"field":"t"}}}
  ]}
 ]},
{"spacing":24,
 "resolve":{"scale":{"x":"independent","y":"independent","stroke":"independent","fill":"independent","shape":"independent"},"legend":{"stroke":"independent","fill":"independent","shape":"independent"}},
 "vconcat":[
 {"spacing":7,
  "resolve":{"scale":{"x":"independent","y":"independent","stroke":"independent","fill":"independent","shape":"independent"},"legend":{"stroke":"independent","fill":"independent","shape":"independent"}},
  "hconcat":[
  {"width":303,"height":304,
   "encoding":{"x":{"field":"x","type":"quantitative","scale":{"domain":[5,91],"nice":false,"zero":false},"axis":{"values":[5,10,15,20,25,30,35,40,45,50,55,60,65,70,75,80,85,90],"labelExpr":"datum.value % 10 == 0 ? datum.label : ''","title":"2θ (degree)","labelFont":"Liberation Serif","titleFont":"Liberation Serif"}},
               "y":{"field":"y","type":"quantitative","scale":{"domain":[0,7.765],"nice":false,"zero":false},"axis":{"values":[0,1,2,3,4,5,6,7],"title":"Intensity (a.u)","titleFont":"Liberation Serif"}}},
   "layer":[
    {"data":{"name":"w2"},"mark":{"type":"line","strokeWidth":1.5,"clip":true},
     "encoding":{"stroke":{"field":"s","type":"nominal","scale":{"domain":["4Er4Ho4Tb","4Er8Ho4Tb","4Er12Ho4Tb","4Er16Ho4Tb"],"range":["#ff0000","#1010ff","#22ee22","#ff7f2a"]},
       "legend":{"title":null,"orient":"top-right","offset":5,"symbolType":"stroke","symbolSize":500,"symbolStrokeWidth":2,"labelFontSize":14,"rowPadding":-1,"labelOffset":5}}}},
    {"data":{"name":"m2"},"mark":{"type":"point","filled":true,"size":40,"opacity":1},
     "encoding":{"fill":{"field":"ph","type":"nominal","scale":{"domain":["δ","α"],"range":["#e61ee6","#000000"]},"legend":{"title":null,"orient":"top-left","offset":3,"symbolSize":20,"labelFontSize":16,"rowPadding":-2,"labelOffset":3}},
                 "shape":{"field":"ph","type":"nominal","scale":{"domain":["δ","α"],"range":["circle","diamond"]},"legend":{"title":null,"orient":"top-left","offset":3,"symbolSize":20,"labelFontSize":16,"rowPadding":-2,"labelOffset":3}}}}
   ]},
  {"width":302,"height":304,
   "encoding":{"x":{"field":"x","type":"quantitative","scale":{"domain":[27,30],"nice":false,"zero":false},"axis":{"values":[27,27.25,27.5,27.75,28,28.25,28.5,28.75,29,29.25,29.5,29.75,30],"labelExpr":"(datum.value*2) % 1 == 0 ? replace(format(datum.value,'~g'),'.',',') : ''","title":"2θ (degree)","labelFont":"Liberation Serif","titleFont":"Liberation Serif"}},
               "y":{"field":"y","type":"quantitative","scale":{"domain":[0,7.765],"nice":false,"zero":false},"axis":{"values":[0,1,2,3,4,5,6,7],"title":"Intensity (a.u)","titleFont":"Liberation Serif"}}},
   "layer":[
    {"data":{"name":"z2"},"mark":{"type":"line","strokeWidth":1.5,"clip":true},
     "encoding":{"stroke":{"field":"s","type":"nominal","scale":{"domain":["4Er4Ho4Tb","4Er8Ho4Tb","4Er12Ho4Tb","4Er16Ho4Tb"],"range":["#ff0000","#1010ff","#22ee22","#ff7f2a"]},
       "legend":{"title":null,"orient":"top-right","offset":7,"symbolType":"stroke","symbolSize":500,"symbolStrokeWidth":2,"labelFontSize":14,"rowPadding":-1,"labelOffset":5}}}},
    {"data":{"name":"r2"},"mark":{"type":"rule","strokeDash":[4,3],"strokeWidth":1.5,"color":"black"},"encoding":{"x2":{"field":"x2"},"y2":{"field":"y2"}}},
    {"data":{"name":"t2"},"mark":{"type":"text","fontSize":11,"font":"Liberation Serif","color":"#222"},"encoding":{"text":{"field":"t"}}}
   ]}
  ]},
 {"spacing":7,
  "resolve":{"scale":{"x":"independent","y":"independent","stroke":"independent","fill":"independent","shape":"independent"},"legend":{"stroke":"independent","fill":"independent","shape":"independent"}},
  "hconcat":[
  {"width":303,"height":303,
   "encoding":{"x":{"field":"x","type":"quantitative","scale":{"domain":[5,91],"nice":false,"zero":false},"axis":{"values":[5,10,15,20,25,30,35,40,45,50,55,60,65,70,75,80,85,90],"labelExpr":"datum.value % 10 == 0 ? datum.label : ''","title":"2θ (degree)","labelFont":"Liberation Serif","titleFont":"Liberation Serif"}},
               "y":{"field":"y","type":"quantitative","scale":{"domain":[0,7.74],"nice":false,"zero":false},"axis":{"values":[0,1,2,3,4,5,6,7],"title":"Intensity (a.u)","titleFont":"Liberation Serif"}}},
   "layer":[
    {"data":{"name":"w3"},"mark":{"type":"line","strokeWidth":1.5,"clip":true},
     "encoding":{"stroke":{"field":"s","type":"nominal","scale":{"domain":["4Er4Ho4Tb","4Er4Ho8Tb","4Er4Ho12Tb","4Er4Ho16Tb"],"range":["#ff0000","#1010ff","#22ee22","#ff7f2a"]},
       "legend":{"title":null,"orient":"top-right","offset":7,"symbolType":"stroke","symbolSize":500,"symbolStrokeWidth":2,"labelFontSize":14,"rowPadding":-1,"labelOffset":5}}}},
    {"data":{"name":"m3"},"mark":{"type":"point","filled":true,"size":40,"opacity":1},
     "encoding":{"fill":{"field":"ph","type":"nominal","scale":{"domain":["δ","α"],"range":["#e61ee6","#000000"]},"legend":{"title":null,"orient":"top-left","offset":3,"symbolSize":20,"labelFontSize":16,"rowPadding":-2,"labelOffset":3}},
                 "shape":{"field":"ph","type":"nominal","scale":{"domain":["δ","α"],"range":["circle","diamond"]},"legend":{"title":null,"orient":"top-left","offset":3,"symbolSize":20,"labelFontSize":16,"rowPadding":-2,"labelOffset":3}}}}
   ]},
  {"width":302,"height":303,
   "encoding":{"x":{"field":"x","type":"quantitative","scale":{"domain":[27,30],"nice":false,"zero":false},"axis":{"values":[27,27.25,27.5,27.75,28,28.25,28.5,28.75,29,29.25,29.5,29.75,30],"labelExpr":"(datum.value*2) % 1 == 0 ? replace(format(datum.value,'~g'),'.',',') : ''","title":"2θ (degree)","labelFont":"Liberation Serif","titleFont":"Liberation Serif"}},
               "y":{"field":"y","type":"quantitative","scale":{"domain":[0,7.74],"nice":false,"zero":false},"axis":{"values":[0,1,2,3,4,5,6,7],"title":"Intensity (a.u)","titleFont":"Liberation Serif"}}},
   "layer":[
    {"data":{"name":"z3"},"mark":{"type":"line","strokeWidth":1.5,"clip":true},
     "encoding":{"stroke":{"field":"s","type":"nominal","scale":{"domain":["4Er4Ho4Tb","4Er4Ho8Tb","4Er4Ho12Tb","4Er4Ho16Tb"],"range":["#ff0000","#1010ff","#22ee22","#ff7f2a"]},
       "legend":{"title":null,"orient":"top-right","offset":7,"symbolType":"stroke","symbolSize":500,"symbolStrokeWidth":2,"labelFontSize":14,"rowPadding":-1,"labelOffset":5}}}},
    {"data":{"name":"r3"},"mark":{"type":"rule","strokeDash":[4,3],"strokeWidth":1.5,"color":"black"},"encoding":{"x2":{"field":"x2"},"y2":{"field":"y2"}}},
    {"data":{"name":"t3"},"mark":{"type":"text","fontSize":11,"font":"Liberation Serif","color":"#222"},"encoding":{"text":{"field":"t"}}}
   ]}
  ]}
 ]}
]
}
